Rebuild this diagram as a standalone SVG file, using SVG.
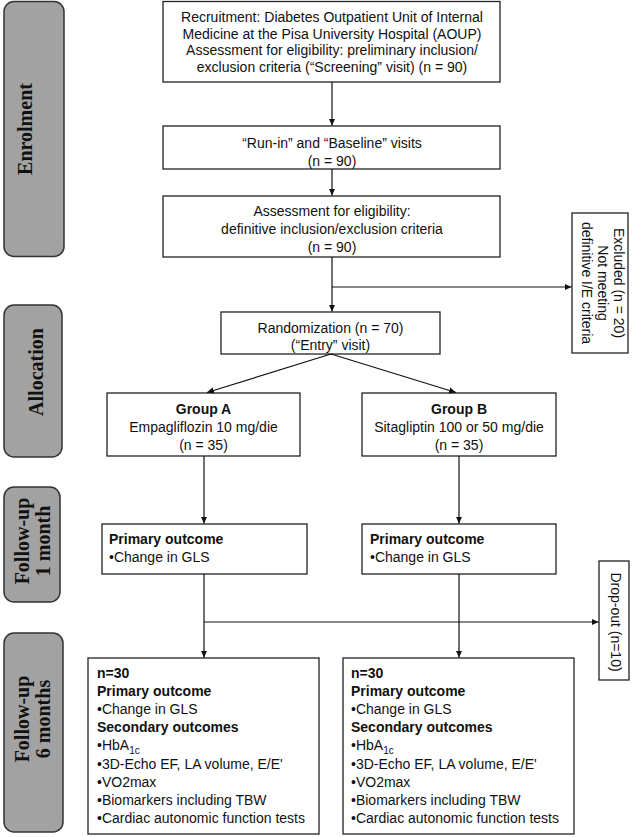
<svg xmlns="http://www.w3.org/2000/svg" width="638" height="837" viewBox="0 0 638 837">
<defs>
<marker id="ah" markerWidth="8" markerHeight="8" refX="7" refY="4" orient="auto" markerUnits="userSpaceOnUse">
<path d="M0,0.8 L7,4 L0,7.2 Z" fill="#111"/>
</marker>
<style>
.box{fill:#fff;stroke:#222;stroke-width:1.3}
.stage{fill:#a2a2a2;stroke:#333;stroke-width:1.5}
.t{font-family:"Liberation Sans",Arial,sans-serif;font-size:14px;fill:#111}
.c{text-anchor:middle}
.b{font-weight:bold}
.st{font-family:"Liberation Serif","Times New Roman",serif;font-size:20px;font-weight:bold;fill:#111;text-anchor:middle}
.ln{fill:none;stroke:#111;stroke-width:1.2}
.sub{font-size:10px}
</style>
</defs>
<rect width="638" height="837" fill="#fff"/>

<g id="stage-enrolment">
<rect class="stage" x="4" y="1.5" width="60" height="255" rx="10"/>
<text class="st" transform="translate(32,129) rotate(-90)">Enrolment</text>
</g>
<g id="stage-allocation">
<rect class="stage" x="4" y="305" width="58" height="152" rx="10"/>
<text class="st" transform="translate(43,372) rotate(-90)">Allocation</text>
</g>
<g id="stage-followup1">
<rect class="stage" x="4" y="487" width="56" height="115" rx="10"/>
<text class="st" transform="translate(0,541) rotate(-90)"><tspan x="0" y="29">Follow-up</tspan><tspan x="0" y="50">1 month</tspan></text>
</g>
<g id="stage-followup6">
<rect class="stage" x="4" y="633" width="59" height="199" rx="10"/>
<text class="st" transform="translate(0,719) rotate(-90)"><tspan x="0" y="29">Follow-up</tspan><tspan x="0" y="50">6 months</tspan></text>
</g>

<g id="recruitment">
<rect class="box" x="163" y="1.5" width="337" height="80.5"/>
<text class="t c"><tspan x="332" y="22">Recruitment: Diabetes Outpatient Unit of Internal</tspan><tspan x="332" y="38.5">Medicine at the Pisa University Hospital (AOUP)</tspan><tspan x="332" y="55">Assessment for eligibility: preliminary inclusion/</tspan><tspan x="332" y="72">exclusion criteria (“Screening” visit) (n = 90)</tspan></text>
</g>
<g id="runin">
<rect class="box" x="163" y="126" width="337" height="43"/>
<text class="t c"><tspan x="332" y="147.5">“Run-in” and “Baseline” visits</tspan><tspan x="332" y="166">(n = 90)</tspan></text>
</g>
<g id="assessment">
<rect class="box" x="163" y="196" width="337" height="61"/>
<text class="t c"><tspan x="332" y="215.5">Assessment for eligibility:</tspan><tspan x="332" y="234">definitive inclusion/exclusion criteria</tspan><tspan x="332" y="252">(n = 90)</tspan></text>
</g>
<g id="excluded">
<rect class="box" x="572" y="213" width="56" height="140"/>
<text class="t c" transform="translate(628,283) rotate(90)"><tspan x="0" y="14">Excluded (n = 20)</tspan><tspan x="0" y="30">Not meeting</tspan><tspan x="0" y="46">definitive I/E criteria</tspan></text>
</g>
<g id="randomization">
<rect class="box" x="221" y="312" width="219" height="42"/>
<text class="t c"><tspan x="330.5" y="333">Randomization (n = 70)</tspan><tspan x="330.5" y="350">(“Entry” visit)</tspan></text>
</g>
<g id="groupA">
<rect class="box" x="107" y="393" width="193" height="63"/>
<text class="t c"><tspan class="b" x="203.5" y="414">Group A</tspan><tspan x="203.5" y="432">Empagliflozin 10 mg/die</tspan><tspan x="203.5" y="450">(n = 35)</tspan></text>
</g>
<g id="groupB">
<rect class="box" x="362" y="393" width="194" height="63"/>
<text class="t c"><tspan class="b" x="459" y="414">Group B</tspan><tspan x="459" y="432">Sitagliptin 100 or 50 mg/die</tspan><tspan x="459" y="450">(n = 35)</tspan></text>
</g>
<g id="primaryA">
<rect class="box" x="102" y="524" width="205" height="50"/>
<text class="t"><tspan class="b" x="109" y="544">Primary outcome</tspan><tspan x="109" y="562">•Change in GLS</tspan></text>
</g>
<g id="primaryB">
<rect class="box" x="362" y="524" width="194" height="50"/>
<text class="t"><tspan class="b" x="370" y="544">Primary outcome</tspan><tspan x="370" y="562">•Change in GLS</tspan></text>
</g>
<g id="dropout">
<rect class="box" x="599" y="561" width="30" height="119"/>
<text class="t c" transform="translate(611,622) rotate(90)">Drop-out (n=10)</text>
</g>
<g id="sixmonthA">
<rect class="box" x="88" y="658" width="231" height="176"/>
<text class="t"><tspan class="b" x="97" y="678">n=30</tspan><tspan class="b" x="97" y="696">Primary outcome</tspan><tspan x="97" y="714">•Change in GLS</tspan><tspan class="b" x="97" y="732">Secondary outcomes</tspan><tspan x="97" y="750">•HbA</tspan><tspan class="sub" dy="4">1c</tspan><tspan x="97" y="769">•3D-Echo EF, LA volume, E/E'</tspan><tspan x="97" y="787">•VO2max</tspan><tspan x="97" y="805">•Biomarkers including TBW</tspan><tspan x="97" y="823">•Cardiac autonomic function tests</tspan></text>
</g>
<g id="sixmonthB">
<rect class="box" x="343" y="658" width="231" height="176"/>
<text class="t"><tspan class="b" x="351" y="678">n=30</tspan><tspan class="b" x="351" y="696">Primary outcome</tspan><tspan x="351" y="714">•Change in GLS</tspan><tspan class="b" x="351" y="732">Secondary outcomes</tspan><tspan x="351" y="750">•HbA</tspan><tspan class="sub" dy="4">1c</tspan><tspan x="351" y="769">•3D-Echo EF, LA volume, E/E'</tspan><tspan x="351" y="787">•VO2max</tspan><tspan x="351" y="805">•Biomarkers including TBW</tspan><tspan x="351" y="823">•Cardiac autonomic function tests</tspan></text>
</g>

<g id="connectors">
<path class="ln" d="M332,82 V125.5" marker-end="url(#ah)"/>
<path class="ln" d="M332,169 V195.5" marker-end="url(#ah)"/>
<path class="ln" d="M332,257 V311.5" marker-end="url(#ah)"/>
<path class="ln" d="M332,287 H571.5" marker-end="url(#ah)"/>
<path class="ln" d="M331,354 L207,392.5" marker-end="url(#ah)"/>
<path class="ln" d="M331,354 L456,392.5" marker-end="url(#ah)"/>
<path class="ln" d="M204,456 V523.5" marker-end="url(#ah)"/>
<path class="ln" d="M459,456 V523.5" marker-end="url(#ah)"/>
<path class="ln" d="M204,574 V657.5" marker-end="url(#ah)"/>
<path class="ln" d="M459,574 V657.5" marker-end="url(#ah)"/>
<path class="ln" d="M204,622 H598.5" marker-end="url(#ah)"/>
</g>
</svg>
